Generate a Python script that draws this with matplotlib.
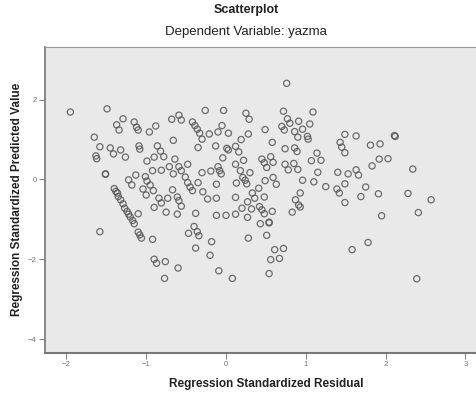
import numpy as np
import matplotlib
matplotlib.use('Agg')
import matplotlib.pyplot as plt

plt.rcParams['font.family'] = ['Liberation Sans', 'DejaVu Sans']

# residuo estandarizado (x) y valor pronosticado estandarizado (y)
resid = [-1.95, -1.49, -1.29, -1.37, -1.34, -1.15, -1.12, -1.10, -1.65, -1.58,
         -1.45, -1.41, -1.32, -1.26, -1.09, -1.08, -1.63, -1.62, -1.51, -1.51,
         -1.22, -1.18, -1.13, -1.40, -1.38, -1.36, -1.35, -1.32, -1.29, -1.27,
         -1.24, -1.22, -1.20, -1.17, -1.15, -1.10, -1.08, -1.06, -1.10, -1.58,
         -0.99,
         -0.96, -0.88, -0.68, -0.59, -0.56, -0.66, -0.42, -0.39, -0.36, -0.33,
         -0.30, -0.26, -0.21, -0.10, -0.03, -0.05, -0.35, -0.13, -0.86, -0.82,
         -0.78, -0.90, -0.64, -0.71, -0.66, -0.59, -0.56, -0.48, -0.92, -0.81,
         -1.01, -0.99, -0.95, -0.91, -1.04, -1.00, -0.51, -0.48, -0.45, -0.42,
         -0.30, -0.19, -0.10, -0.08, -0.06, -0.04, -0.12, -0.35, -0.29, -0.23,
         -0.12, -0.67, -0.61, -0.59, -0.56, -0.73, -0.84, -0.81, -0.90, -0.75,
         -0.61, -0.38, -0.12, -0.92, -0.47, -0.40, -0.36, -0.34, -0.18, -0.38,
         -0.20, -0.90, -0.87, -0.76, -0.60, -0.09, -0.77,
         0.76, 0.25, 0.29, 0.72, 0.77, 0.80, 0.91, 0.70, 0.73, 0.86,
         0.90, 0.96, 0.03, 0.49, 0.28, 0.19, 0.58, 0.01, 0.03, 0.12,
         0.16, 0.22, 0.12, 0.45, 0.48, 0.51, 0.56, 0.59, 0.74, 0.86,
         0.89, 0.74, 0.78, 0.85, 0.90, 0.18, 0.30, 0.21, 0.24, 0.26,
         0.13, 0.49, 0.59, 0.63, 0.96, 0.41, 0.33, 0.36, 0.48, 0.12,
         0.27, 0.93, 0.87, 0.91, 0.93, 0.83, 0.20, 0.32, 0.42, 0.45,
         0.48, 0.58, 0.00, 0.12, 0.27, 0.43, 0.54, 0.54, 0.51, 0.28,
         0.61, 0.72, 0.56, 0.67, 0.54, 0.08,
         1.09, 1.05, 1.02, 1.03, 1.49, 1.63, 1.43, 1.45, 1.49, 1.81,
         1.93, 1.14, 1.07, 1.19, 1.92, 1.83, 1.15, 1.40, 1.53, 1.63,
         1.66, 1.10, 1.25, 1.49, 1.39, 1.42, 1.75, 1.69, 1.91, 1.49,
         1.95, 1.78, 1.58,
         2.11, 2.12, 2.03, 2.34, 2.28, 2.57, 2.41, 2.39]

pred = [1.69, 1.77, 1.52, 1.37, 1.24, 1.44, 1.31, 1.24, 1.06, 0.82,
        0.79, 0.64, 0.74, 0.56, 0.84, 0.76, 0.59, 0.52, 0.14, 0.13,
        -0.01, -0.14, 0.11, -0.23, -0.30, -0.34, -0.43, -0.51, -0.61, -0.72,
        -0.80, -0.87, -0.94, -1.03, -1.11, -1.32, -1.39, -1.47, -0.86, -1.31,
        0.46,
        1.19, 1.34, 1.51, 1.61, 1.49, 0.98, 1.44, 1.35, 1.26, 1.16,
        1.01, 1.73, 1.14, 1.19, 1.73, 1.35, 0.80, 0.84, 0.84, 0.71,
        0.57, 0.56, 0.51, 0.32, 0.14, 0.32, 0.22, 0.38, 0.22, 0.23,
        0.07, -0.04, -0.14, -0.28, -0.24, -0.39, 0.06, -0.08, -0.19, -0.28,
        0.17, 0.21, 0.32, 0.22, 0.14, 0.54, -0.12, -0.08, -0.31, -0.49,
        -0.47, -0.26, -0.44, -0.53, -0.67, -0.47, -0.47, -0.59, -0.70, -0.82,
        -0.87, -0.85, -0.90, -1.50, -1.35, -1.18, -1.31, -1.41, -1.56, -1.72,
        -1.90, -2.00, -2.10, -2.06, -2.22, -2.29, -2.48,
        2.41, 1.66, 1.51, 1.71, 1.52, 1.41, 1.46, 1.33, 1.24, 1.20,
        1.06, 1.26, 1.16, 1.25, 1.14, 1.00, 0.93, 0.78, 0.74, 0.83,
        0.69, 0.48, 0.38, 0.51, 0.42, 0.30, 0.57, 0.43, 0.77, 0.79,
        0.70, 0.38, 0.24, 0.40, 0.25, 0.22, 0.17, 0.05, -0.02, -0.11,
        -0.09, -0.03, 0.05, -0.12, -0.02, -0.22, -0.34, -0.47, -0.44, -0.45,
        -0.56, -0.34, -0.51, -0.64, -0.69, -0.82, -0.72, -0.74, -0.68, -0.76,
        -0.86, -0.80, -0.90, -0.87, -0.95, -1.11, -1.07, -1.09, -1.40, -1.47,
        -1.76, -1.73, -2.01, -1.98, -2.36, -2.48,
        1.69, 1.39, 1.08, 1.01, 1.13, 1.09, 0.93, 0.81, 0.67, 0.86,
        0.89, 0.66, 0.47, 0.48, 0.51, 0.34, 0.18, 0.18, 0.14, 0.24,
        0.11, -0.06, -0.18, -0.11, -0.24, -0.34, -0.19, -0.43, -0.36, -0.58,
        -0.91, -1.58, -1.76,
        1.10, 1.08, 0.52, 0.26, -0.35, -0.51, -0.83, -2.49]

xticks = [-2, -1, 0, 1, 2, 3]
yticks = [-4, -2, 0, 2]

fig = plt.figure(figsize=(4.77, 3.98), dpi=100)
ax = fig.add_axes([0.0943, 0.1131, 0.9057, 0.7688])
ax.set_facecolor('#e9e9e9')

ax.scatter(resid, pred, s=20, facecolors='none', edgecolors='#555555',
           linewidths=0.9, alpha=0.85, zorder=3)

ax.set_xlim(-2.268, 3.145)
ax.set_ylim(-4.35, 3.32)
ax.set_xticks(xticks)
ax.set_yticks(yticks)
ax.tick_params(direction='out', length=4, width=0.8, colors='#888888',
               labelsize=5.5, labelcolor='#777777', pad=2)

ax.spines['right'].set_visible(False)
ax.spines['top'].set_color('#999999')
ax.spines['top'].set_linewidth(0.8)
ax.spines['left'].set_color('#808080')
ax.spines['left'].set_linewidth(1.3)
ax.spines['bottom'].set_color('#777777')
ax.spines['bottom'].set_linewidth(1.5)

fig.text(0.517, 0.975, 'Scatterplot', ha='center', va='center',
         fontsize=9, fontweight='bold', color='#222222')
fig.text(0.516, 0.92, 'Dependent Variable: yazma', ha='center', va='center',
         fontsize=9.5, color='#222222')
fig.text(0.558, 0.035, 'Regression Standardized Residual', ha='center',
         va='center', fontsize=8.5, fontweight='bold', color='#222222')
fig.text(0.036, 0.5, 'Regression Standardized Predicted Value', ha='center',
         va='center', rotation=90, fontsize=8.5, fontweight='bold',
         color='#222222')

fig.savefig('out.png', dpi=100)
